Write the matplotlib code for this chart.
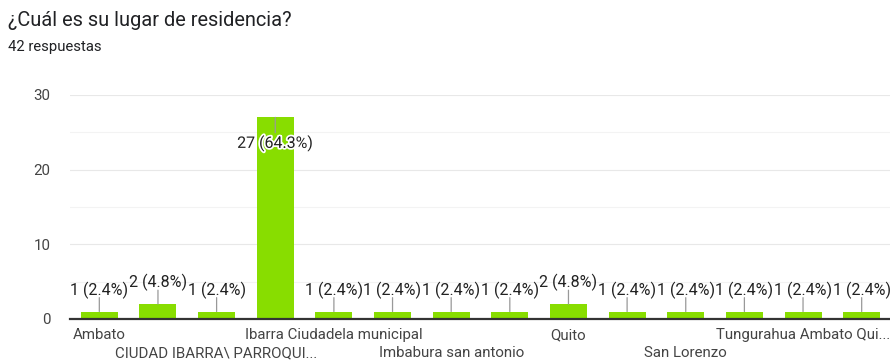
import matplotlib
matplotlib.use('Agg')
import matplotlib.pyplot as plt
import matplotlib.patheffects as pe

plt.rcParams['font.family'] = ['Roboto', 'DejaVu Sans']

TITLE = '¿Cuál es su lugar de residencia?'
SUBTITLE = '42 respuestas'

# categories in chart order (only every other name is shown on the axis)
categories = ['Ambato', 'Atuntaqui', 'CIUDAD IBARRA\\ PARROQUI...', 'Ibarra',
              'Ibarra Ciudadela municipal', 'Imbabura', 'Imbabura san antonio',
              'Otavalo', 'Quito', 'Quito norte', 'San Lorenzo', 'Tulcán',
              'Tungurahua Ambato Qui...', 'Urcuquí']
counts = [1, 2, 1, 27, 1, 1, 1, 1, 2, 1, 1, 1, 1, 1]
total = 42
y_ticks = [0, 10, 20, 30]

BAR_COLOR = '#88dd00'
TEXT_COLOR = '#444444'
TICK_FS = 10.8
ANN_FS = 11.5

fig = plt.figure(figsize=(8.9, 3.62), dpi=100)
ax = fig.add_axes([70 / 890, 43 / 362, 821 / 890, 224 / 362])

x = list(range(len(categories)))
ax.bar(x, counts, width=0.63, color=BAR_COLOR, zorder=3)

ax.set_xlim(-0.5, len(categories) - 0.5)
ax.set_ylim(0, 30)
ax.set_yticks(y_ticks)
ax.set_yticks([5, 15, 25], minor=True)
ax.grid(True, axis='y', which='major', color='#e8e8e8', linewidth=0.8, zorder=0)
ax.grid(True, axis='y', which='minor', color='#f3f3f3', linewidth=0.8, zorder=0)
ax.tick_params(axis='y', which='both', length=0, pad=14, labelsize=TICK_FS, labelcolor=TEXT_COLOR)

# every other category name, alternating between two rows
row1 = x[0::4]
row2 = x[2::4]
ax.set_xticks(row1)
ax.set_xticklabels([categories[i] for i in row1])
ax.set_xticks(row2, minor=True)
ax.set_xticklabels([categories[i] for i in row2], minor=True)
ax.tick_params(axis='x', which='major', length=0, pad=6.5, labelsize=TICK_FS, labelcolor=TEXT_COLOR)
ax.tick_params(axis='x', which='minor', length=0, pad=19.5, labelsize=TICK_FS, labelcolor=TEXT_COLOR)

for s in ['top', 'right', 'left']:
    ax.spines[s].set_visible(False)
ax.spines['bottom'].set_color('#333333')
ax.spines['bottom'].set_linewidth(1.6)
ax.spines['bottom'].set_zorder(4)

# value annotations with stems
for i, v in enumerate(counts):
    txt = '%d (%.1f%%)' % (v, 100.0 * v / total)
    if v > 20:
        ax.annotate('', xy=(i, v), xytext=(0, -11), textcoords='offset points',
                    arrowprops=dict(arrowstyle='-', color='#999999', lw=0.9,
                                    shrinkA=0, shrinkB=0), zorder=5)
        ax.annotate(txt, xy=(i, v), xytext=(0, -18.5), textcoords='offset points',
                    ha='center', va='center', fontsize=ANN_FS, color='#222222', zorder=6,
                    path_effects=[pe.withStroke(linewidth=2.5, foreground='white')])
    else:
        ax.annotate('', xy=(i, v), xytext=(0, 10), textcoords='offset points',
                    arrowprops=dict(arrowstyle='-', color='#999999', lw=0.9,
                                    shrinkA=0, shrinkB=0), zorder=5)
        ax.annotate(txt, xy=(i, v), xytext=(0, 15.5), textcoords='offset points',
                    ha='center', va='center', fontsize=ANN_FS, color='#222222', zorder=6)

fig.text(8 / 890, 1 - 20 / 362, TITLE, fontsize=14.4, color='#202124', va='center')
fig.text(8 / 890, 1 - 47 / 362, SUBTITLE, fontsize=10.7, color='#202124', va='center')

fig.savefig('out.png', dpi=100)
plt.close(fig)
